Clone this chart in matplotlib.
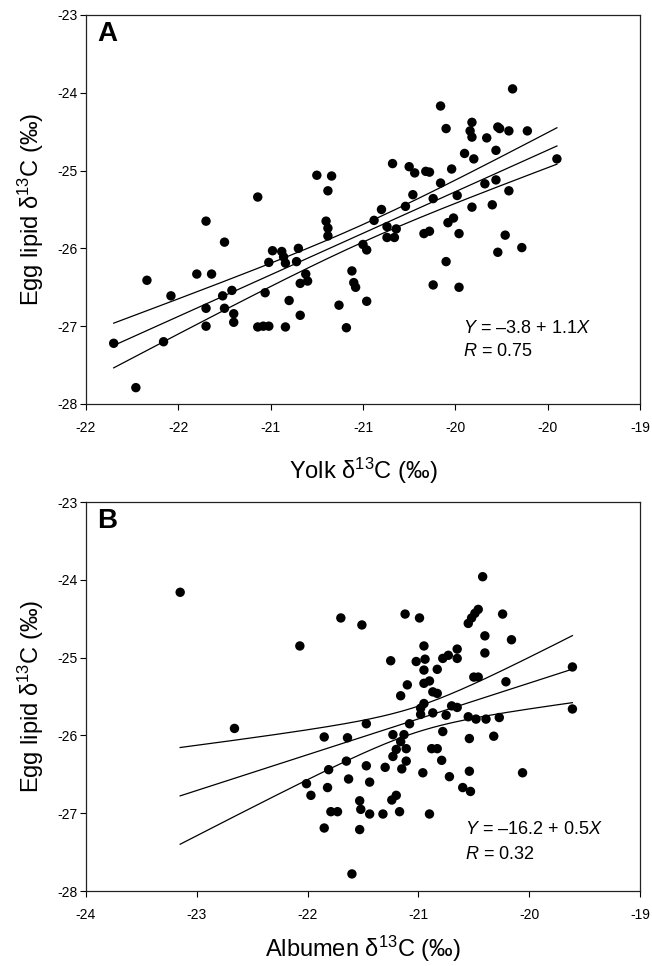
import numpy as np
import matplotlib
matplotlib.use("Agg")
import matplotlib.pyplot as plt

plt.rcParams['font.family'] = ['Liberation Sans', 'DejaVu Sans']
plt.rcParams['mathtext.fontset'] = 'custom'
plt.rcParams['mathtext.rm'] = 'Liberation Sans'
plt.rcParams['mathtext.it'] = 'Liberation Sans:italic'
plt.rcParams['axes.unicode_minus'] = False

# panel A: yolk d13C vs egg lipid d13C
yolk = [-20.75, -20.67, -20.69, -21.07, -21.35, -21.25, -20.70, -20.69, -20.69, -20.99,
        -20.94, -20.93, -20.92, -20.85, -20.86, -21.01, -21.67, -21.40, -21.32, -21.54,
        -21.26, -21.21, -21.03, -20.90, -20.81, -20.80, -20.84, -20.56, -20.55, -20.54,
        -20.50, -20.48, -20.44, -20.08, -20.05, -19.91, -19.92, -19.91, -19.77, -19.76,
        -19.71, -19.61, -19.83, -19.78, -19.95, -19.90, -19.45, -20.34, -20.25, -20.22,
        -20.16, -20.14, -20.02, -20.08, -19.84, -19.78, -19.71, -20.23, -20.12, -19.99,
        -20.27, -19.91, -19.80, -20.40, -20.37, -20.32, -20.37, -20.33, -20.04, -20.01,
        -20.17, -20.14, -19.98, -19.73, -19.77, -19.64, -20.05, -20.12, -19.98, -20.48,
        -21.35, -21.25, -21.20, -21.20, -21.35, -21.07, -21.04, -21.01, -20.92, -20.84,
        -20.63, -20.59, -21.85, -21.58, -21.73, -19.69]
lipid_a = [-25.06, -25.07, -25.26, -25.34, -25.65, -25.92, -25.65, -25.74, -25.84, -26.03,
           -26.04, -26.11, -26.19, -26.00, -26.17, -26.18, -26.41, -26.33, -26.33, -26.61,
           -26.61, -26.54, -26.57, -26.67, -26.33, -26.42, -26.45, -26.29, -26.44, -26.50,
           -25.95, -26.02, -25.64, -24.17, -24.46, -24.38, -24.49, -24.57, -24.44, -24.46,
           -24.49, -24.49, -24.58, -24.74, -24.78, -24.85, -24.85, -24.91, -24.95, -25.03,
           -25.01, -25.02, -24.98, -25.16, -25.17, -25.12, -25.26, -25.31, -25.36, -25.32,
           -25.46, -25.47, -25.44, -25.50, -25.72, -25.75, -25.86, -25.86, -25.67, -25.61,
           -25.81, -25.78, -25.81, -25.83, -26.05, -25.99, -26.17, -26.47, -26.50, -26.68,
           -26.77, -26.77, -26.84, -26.95, -27.00, -27.01, -27.00, -27.00, -27.01, -26.86,
           -26.73, -27.02, -27.22, -27.20, -27.79, -23.95]

# panel B: albumen d13C vs egg lipid d13C
albumen = [-23.15, -21.70, -21.51, -22.07, -20.42, -21.12, -20.99, -20.55, -20.52, -20.49,
           -20.46, -20.24, -20.40, -20.16, -20.40, -20.95, -21.25, -21.02, -20.94, -20.78,
           -20.73, -20.65, -20.65, -20.95, -20.83, -20.50, -20.46, -21.10, -20.95, -20.90,
           -20.21, -21.16, -20.87, -20.83, -19.61, -20.95, -20.98, -20.70, -20.65, -20.87,
           -20.98, -20.75, -20.55, -20.48, -20.39, -20.27, -19.61, -21.47, -21.08, -20.78,
           -20.54, -20.32, -21.64, -21.23, -21.13, -21.16, -21.20, -21.11, -20.88, -20.83,
           -21.23, -20.79, -21.11, -21.65, -21.81, -21.47, -21.30, -21.15, -20.96, -20.54,
           -20.06, -20.72, -21.63, -21.44, -20.60, -20.53, -21.82, -21.53, -21.52, -21.24,
           -21.20, -21.17, -21.44, -21.32, -20.90, -21.79, -21.73, -21.53, -21.60, -22.66,
           -21.85, -22.01, -21.97, -21.85]
lipid_b = [-24.16, -24.49, -24.58, -24.85, -23.96, -24.44, -24.49, -24.56, -24.49, -24.43,
           -24.38, -24.44, -24.72, -24.77, -24.94, -24.85, -25.04, -25.05, -25.02, -25.01,
           -24.97, -24.89, -25.01, -25.16, -25.15, -25.25, -25.25, -25.35, -25.33, -25.30,
           -25.31, -25.49, -25.44, -25.46, -25.12, -25.59, -25.65, -25.62, -25.64, -25.71,
           -25.73, -25.74, -25.76, -25.79, -25.79, -25.77, -25.66, -25.85, -25.85, -25.95,
           -26.04, -26.01, -26.03, -25.99, -25.99, -26.08, -26.18, -26.17, -26.17, -26.17,
           -26.27, -26.32, -26.33, -26.33, -26.44, -26.39, -26.41, -26.43, -26.48, -26.46,
           -26.48, -26.53, -26.56, -26.60, -26.67, -26.72, -26.67, -26.84, -26.95, -26.83,
           -26.77, -26.98, -27.01, -27.01, -27.01, -26.98, -26.98, -27.21, -27.78, -25.91,
           -26.02, -26.62, -26.77, -27.19]

eq_a = [r'$Y$ = –3.8 + 1.1$X$', r'$R$ = 0.75']
eq_b = [r'$Y$ = –16.2 + 0.5$X$', r'$R$ = 0.32']


def fit_band(x, y):
    x = np.asarray(x)
    y = np.asarray(y)
    n = len(x)
    b, a = np.polyfit(x, y, 1)
    xs = np.linspace(x.min(), x.max(), 200)
    ys = a + b * xs
    resid = y - (a + b * x)
    s = np.sqrt(np.sum(resid ** 2) / (n - 2))
    sxx = np.sum((x - x.mean()) ** 2)
    se = s * np.sqrt(1.0 / n + (xs - x.mean()) ** 2 / sxx)
    t = 1.986
    return xs, ys, ys - t * se, ys + t * se


def panel(ax, x, y, letter, eq, xlabel, xlim, xticks, fmt, eqpos, xlab_y):
    xs, ys, lo, hi = fit_band(x, y)
    for line in (ys, lo, hi):
        ax.plot(xs, line, color='black', lw=0.9, zorder=2)
    ax.scatter(x, y, s=46, color='black', edgecolors='none', zorder=3)
    ax.set_xlim(xlim)
    ax.set_ylim(-28, -23)
    ax.set_xticks(xticks)
    ax.set_xticklabels([fmt(v) for v in xticks])
    ax.set_yticks(np.arange(-28, -22.9, 1))
    ax.set_yticklabels(['%d' % v for v in np.arange(-28, -22.9, 1)])
    ax.tick_params(direction='out', length=4, width=0.8, labelsize=10,
                   top=False, right=False)
    ax.tick_params(axis='x', pad=8)
    ax.tick_params(axis='y', pad=2)
    for sp in ax.spines.values():
        sp.set_linewidth(0.9)
        sp.set_color('#222222')
    ax.set_xlabel(xlabel, fontsize=17, va='center')
    ax.xaxis.set_label_coords(0.5, xlab_y)
    ax.set_ylabel('Egg lipid δ$^{13}$C (‰)', fontsize=17, va='center')
    ax.yaxis.set_label_coords(-0.10, 0.5)
    ax.text(0.02, 0.985, letter, transform=ax.transAxes, fontsize=20,
            fontweight='bold', ha='left', va='top')
    ax.text(eqpos[0], eqpos[1], eq[0], transform=ax.transAxes, fontsize=13,
            ha='left', va='center')
    ax.text(eqpos[0], eqpos[2], eq[1], transform=ax.transAxes, fontsize=13,
            ha='left', va='center')


fig = plt.figure(figsize=(6.52, 9.66), dpi=100)
ax1 = fig.add_axes([0.1319, 0.5818, 0.8497, 0.4027])
ax2 = fig.add_axes([0.1319, 0.0776, 0.8497, 0.4027])

panel(ax1, yolk, lipid_a, 'A', eq_a, 'Yolk δ$^{13}$C (‰)', (-22, -19),
      np.arange(-22, -18.9, 0.5), lambda v: '%d' % np.floor(v),
      (0.68, 0.193, 0.134), -0.172)
panel(ax2, albumen, lipid_b, 'B', eq_b, 'Albumen δ$^{13}$C (‰)', (-24, -19),
      np.arange(-24, -18.9, 1), lambda v: '%d' % v,
      (0.684, 0.157, 0.093), -0.148)

fig.savefig('out.png', dpi=100)
